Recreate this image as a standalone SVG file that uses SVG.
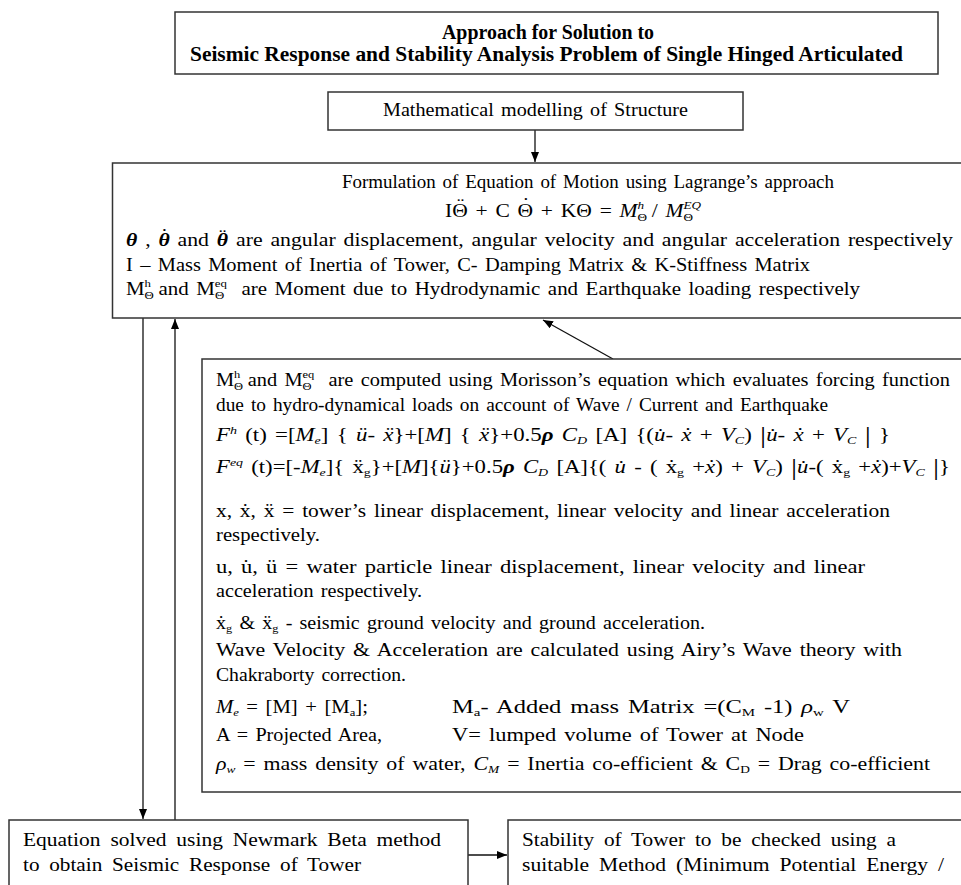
<svg xmlns="http://www.w3.org/2000/svg" width="961" height="885" viewBox="0 0 961 885">
<style>
.box{fill:#fff;stroke:#333;stroke-width:1.5}
.conn{stroke:#111;stroke-width:1.3;fill:none}
.t{font-family:"Liberation Serif","Times New Roman",serif;font-size:18px;word-spacing:2px;fill:#000}
.big{font-size:19px;word-spacing:4px}
.title{font-family:"Liberation Serif","Times New Roman",serif;font-weight:bold;font-size:20px;fill:#000}
.i{font-style:italic}
.s{font-size:11px}
.bar{font-size:24px}
</style>
<defs>
<marker id="ah" markerUnits="userSpaceOnUse" markerWidth="10" markerHeight="8" refX="10" refY="4" orient="auto">
<path d="M0,0 L10,4 L0,8 z" fill="#000"/>
</marker>
</defs>
<rect width="961" height="885" fill="#fff"/>
<g id="connectors">
<line class="conn" x1="535" y1="130" x2="535" y2="162" marker-end="url(#ah)"/>
<line class="conn" x1="613" y1="359" x2="543" y2="320" marker-end="url(#ah)"/>
<line class="conn" x1="143" y1="318" x2="143" y2="819" marker-end="url(#ah)"/>
<line class="conn" x1="175" y1="820" x2="175" y2="319" marker-end="url(#ah)"/>
<line class="conn" x1="468" y1="855" x2="507" y2="855" marker-end="url(#ah)"/>
</g>
<g id="title">
<rect class="box" x="175" y="12" width="763" height="62"/>
<text class="title" x="442" y="39" textLength="212" lengthAdjust="spacingAndGlyphs">Approach for Solution to</text>
<text class="title" x="190" y="61" textLength="713" lengthAdjust="spacingAndGlyphs">Seismic Response and Stability Analysis Problem of Single Hinged Articulated</text>
</g>
<g id="modelling">
<rect class="box" x="328" y="92" width="415" height="38"/>
<text class="t" x="383" y="116" textLength="305" lengthAdjust="spacingAndGlyphs">Mathematical modelling of Structure</text>
</g>
<g id="formulation">
<rect class="box" x="112.5" y="163" width="900" height="155"/>
<text class="t" x="342" y="188" textLength="492" lengthAdjust="spacingAndGlyphs">Formulation of Equation of Motion using Lagrange’s approach</text>
<text class="t" x="445" y="217" word-spacing="0" textLength="256" lengthAdjust="spacingAndGlyphs">IΘ<tspan dx="-9" dy="-6">¨</tspan><tspan dx="3" dy="6"> + C </tspan>Θ<tspan dx="-9" dy="-6">˙</tspan><tspan dx="3" dy="6"> + KΘ =  </tspan><tspan class="i">M</tspan><tspan class="s" dy="4">Θ</tspan><tspan class="s i" dx="-8" dy="-12">h</tspan><tspan dy="8"> / </tspan><tspan class="i">M</tspan><tspan class="s" dy="4">Θ</tspan><tspan class="s i" dx="-8" dy="-12">EQ</tspan></text>
<text class="t" x="126" y="246" textLength="827" lengthAdjust="spacingAndGlyphs"><tspan class="i" font-weight="bold">θ</tspan> , <tspan class="i" font-weight="bold">θ</tspan><tspan dx="-7.5" dy="-4">˙</tspan><tspan dx="1.5" dy="4"> and </tspan><tspan class="i" font-weight="bold">θ</tspan><tspan dx="-7.5" dy="-4">¨</tspan><tspan dx="1.5" dy="4"> are angular displacement, angular velocity and angular acceleration respectively</tspan></text>
<text class="t" x="126" y="271" textLength="684" lengthAdjust="spacingAndGlyphs">I – Mass Moment of Inertia of Tower, C- Damping Matrix &amp; K-Stiffness Matrix</text>
<text class="t" x="126" y="295" textLength="734" lengthAdjust="spacingAndGlyphs">M<tspan class="s" dy="4">Θ</tspan><tspan class="s" dx="-8" dy="-12">h</tspan><tspan dy="8"> and M</tspan><tspan class="s" dy="4">Θ</tspan><tspan class="s" dx="-8" dy="-12">eq</tspan><tspan dy="8" dx="6"> are Moment due to Hydrodynamic and Earthquake loading respectively</tspan></text>
</g>
<g id="morison">
<rect class="box" x="202" y="359" width="800" height="433"/>
<text class="t" x="216" y="386" textLength="734" lengthAdjust="spacingAndGlyphs">M<tspan class="s" dy="4">Θ</tspan><tspan class="s" dx="-8" dy="-12">h</tspan><tspan dy="8"> and M</tspan><tspan class="s" dy="4">Θ</tspan><tspan class="s" dx="-8" dy="-12">eq</tspan><tspan dy="8" dx="6"> are computed using Morisson’s equation which evaluates forcing function</tspan></text>
<text class="t" x="216" y="411" textLength="612" lengthAdjust="spacingAndGlyphs">due to hydro-dynamical loads on account of Wave / Current and Earthquake</text>
<text class="t" x="216" y="441" textLength="674" lengthAdjust="spacingAndGlyphs" word-spacing="0"><tspan class="i">F</tspan><tspan class="s i" dy="-7">h</tspan><tspan dy="7"> (t) =[</tspan><tspan class="i">M</tspan><tspan class="s i" dy="3">e</tspan><tspan dy="-3">] { </tspan><tspan class="i">ü</tspan>- <tspan class="i">ẍ</tspan>}+[<tspan class="i">M</tspan>] { <tspan class="i">ẍ</tspan>}+0.5<tspan class="i" font-weight="bold">ρ</tspan> <tspan class="i">C</tspan><tspan class="s i" dy="3">D</tspan><tspan dy="-3"> [A] {(</tspan><tspan class="i">u̇</tspan>- <tspan class="i">ẋ</tspan> + <tspan class="i">V</tspan><tspan class="s i" dy="3">C</tspan><tspan dy="-3">)   </tspan><tspan class="bar" dy="2">|</tspan><tspan class="i" dy="-2">u̇</tspan>- <tspan class="i">ẋ</tspan> + <tspan class="i">V</tspan><tspan class="s i" dy="3">C</tspan><tspan dy="-3">     </tspan><tspan class="bar" dy="2">|</tspan><tspan dy="-2"> }</tspan></text>
<text class="t" x="216" y="473" textLength="734" lengthAdjust="spacingAndGlyphs" word-spacing="0"><tspan class="i">F</tspan><tspan class="s i" dy="-7">eq</tspan><tspan dy="7"> (t)=[-</tspan><tspan class="i">M</tspan><tspan class="s i" dy="3">e</tspan><tspan dy="-3">]{ ẍ</tspan><tspan class="s" dy="3">g</tspan><tspan dy="-3">}+[</tspan><tspan class="i">M</tspan>]{<tspan class="i">ü</tspan>}+0.5<tspan class="i" font-weight="bold">ρ</tspan> <tspan class="i">C</tspan><tspan class="s i" dy="3">D</tspan><tspan dy="-3"> [A]{( </tspan><tspan class="i">u̇</tspan> - ( ẋ<tspan class="s" dy="3">g</tspan><tspan dy="-3"> +</tspan><tspan class="i">ẋ</tspan>) + <tspan class="i">V</tspan><tspan class="s i" dy="3">C</tspan><tspan dy="-3">)  </tspan><tspan class="bar" dy="2">|</tspan><tspan class="i" dy="-2">u̇</tspan>-( ẋ<tspan class="s" dy="3">g</tspan><tspan dy="-3"> +</tspan><tspan class="i">ẋ</tspan>)+<tspan class="i">V</tspan><tspan class="s i" dy="3">C</tspan><tspan dy="-3">     </tspan><tspan class="bar" dy="2">|</tspan><tspan dy="-2">}</tspan></text>
<text class="t" x="216" y="517" textLength="674" lengthAdjust="spacingAndGlyphs">x,  ẋ,  ẍ = tower’s linear displacement, linear velocity and linear acceleration</text>
<text class="t" x="216" y="541" textLength="104" lengthAdjust="spacingAndGlyphs">respectively.</text>
<text class="t" x="216" y="573" textLength="649" lengthAdjust="spacingAndGlyphs">u,  u̇,  ü  = water particle linear displacement, linear velocity and linear</text>
<text class="t" x="216" y="597" textLength="206" lengthAdjust="spacingAndGlyphs">acceleration respectively.</text>
<text class="t" x="216" y="629" textLength="489" lengthAdjust="spacingAndGlyphs">ẋ<tspan class="s" dy="3">g</tspan><tspan dy="-3">  &amp;  ẍ</tspan><tspan class="s" dy="3">g</tspan><tspan dy="-3"> - seismic ground velocity and ground acceleration.</tspan></text>
<text class="t" x="216" y="656" textLength="686" lengthAdjust="spacingAndGlyphs">Wave Velocity &amp; Acceleration are calculated using Airy’s Wave theory with</text>
<text class="t" x="216" y="681" textLength="190" lengthAdjust="spacingAndGlyphs">Chakraborty correction.</text>
<text class="t" x="216" y="713" textLength="152" lengthAdjust="spacingAndGlyphs"><tspan class="i">M</tspan><tspan class="s i" dy="3">e</tspan><tspan dy="-3"> = [M] + [M</tspan><tspan class="s" dy="3">a</tspan><tspan dy="-3">];</tspan></text>
<text class="t" x="452" y="713" textLength="398" lengthAdjust="spacingAndGlyphs">M<tspan class="s" dy="3">a</tspan><tspan dy="-3">- Added mass Matrix =(C</tspan><tspan class="s" dy="3">M</tspan><tspan dy="-3"> -1) </tspan><tspan class="i">ρ</tspan><tspan class="s" dy="3">w</tspan><tspan dy="-3"> V</tspan></text>
<text class="t" x="216" y="741" textLength="166" lengthAdjust="spacingAndGlyphs">A = Projected Area,</text>
<text class="t" x="452" y="741" textLength="352" lengthAdjust="spacingAndGlyphs">V= lumped volume of Tower at Node</text>
<text class="t" x="216" y="770" textLength="714" lengthAdjust="spacingAndGlyphs"><tspan class="i">ρ</tspan><tspan class="s i" dy="3">w</tspan><tspan dy="-3"> = mass density of water, </tspan><tspan class="i">C</tspan><tspan class="s i" dy="3">M</tspan><tspan dy="-3"> = Inertia co-efficient &amp; C</tspan><tspan class="s" dy="3">D</tspan><tspan dy="-3"> = Drag co-efficient</tspan></text>
</g>
<g id="newmark">
<rect class="box" x="9" y="820" width="459" height="100"/>
<text class="t big" x="23" y="846" textLength="418" lengthAdjust="spacingAndGlyphs">Equation solved using Newmark Beta method</text>
<text class="t big" x="23" y="871" textLength="338" lengthAdjust="spacingAndGlyphs">to obtain Seismic Response of Tower</text>
</g>
<g id="stability">
<rect class="box" x="508" y="820" width="500" height="100"/>
<text class="t big" x="522" y="846" textLength="374" lengthAdjust="spacingAndGlyphs">Stability of Tower to be checked using a</text>
<text class="t big" x="522" y="871" textLength="422" lengthAdjust="spacingAndGlyphs">suitable Method (Minimum Potential Energy /</text>
</g>
</svg>
